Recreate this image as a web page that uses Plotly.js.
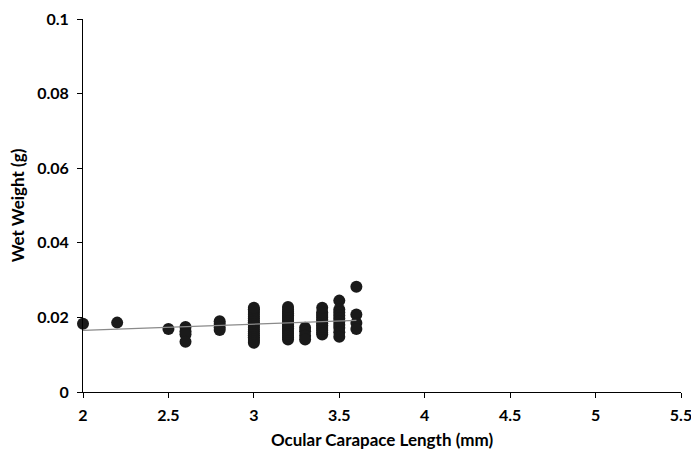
<!DOCTYPE html>
<html><head><meta charset="utf-8">
<script src="https://cdn.plot.ly/plotly-3.0.1.min.js"></script>
<style>html,body{margin:0;padding:0;background:#fff;}#chart{width:691px;height:451px;}</style>
</head><body><div id="chart"></div>
<script>
const lengthMm = [
  2.0, 2.2, 2.5,
  2.6, 2.6, 2.6, 2.6,
  2.8, 2.8, 2.8, 2.8,
  3.0, 3.0, 3.0, 3.0, 3.0, 3.0, 3.0, 3.0, 3.0, 3.0, 3.0, 3.0, 3.0, 3.0, 3.0, 3.0, 3.0, 3.0, 3.0, 3.0,
  3.2, 3.2, 3.2, 3.2, 3.2, 3.2, 3.2, 3.2, 3.2, 3.2, 3.2, 3.2, 3.2, 3.2, 3.2, 3.2, 3.2, 3.2,
  3.3, 3.3, 3.3, 3.3,
  3.4, 3.4, 3.4, 3.4, 3.4, 3.4, 3.4, 3.4, 3.4, 3.4, 3.4, 3.4, 3.4, 3.4,
  3.5, 3.5, 3.5, 3.5, 3.5, 3.5, 3.5, 3.5, 3.5, 3.5,
  3.6, 3.6, 3.6, 3.6
];
const wetWeight = [
  0.0183, 0.0186, 0.0169,
  0.0174, 0.0163, 0.0155, 0.0135,
  0.0190, 0.0182, 0.0173, 0.0166,
  0.0132, 0.0137, 0.0142, 0.0147, 0.0152, 0.0157, 0.0162, 0.0167, 0.0172, 0.0177, 0.0182, 0.0187, 0.0192, 0.0197, 0.0202, 0.0207, 0.0212, 0.0217, 0.0222, 0.0226,
  0.0141, 0.0146, 0.0151, 0.0156, 0.0161, 0.0166, 0.0171, 0.0176, 0.0181, 0.0186, 0.0191, 0.0196, 0.0201, 0.0206, 0.0211, 0.0216, 0.0221, 0.0228,
  0.0172, 0.0163, 0.0151, 0.0141,
  0.0154, 0.0159, 0.0164, 0.0169, 0.0174, 0.0179, 0.0184, 0.0189, 0.0194, 0.0199, 0.0204, 0.0209, 0.0214, 0.0226,
  0.0245, 0.0221, 0.0213, 0.0205, 0.0197, 0.0189, 0.0180, 0.0172, 0.0160, 0.0148,
  0.0282, 0.0208, 0.0185, 0.0169
];
const trendX = [2.0, 3.6];
const trendY = [0.0165, 0.0192];
const xTicks = [2, 2.5, 3, 3.5, 4, 4.5, 5, 5.5];
const yTicks = [0, 0.02, 0.04, 0.06, 0.08, 0.1];

const font = 'Lato, "Open Sans", sans-serif';
const data = [
  {x: lengthMm, y: wetWeight, type: 'scatter', mode: 'markers',
   marker: {color: '#1a1a1a', size: 12}, hoverinfo: 'skip', cliponaxis: false},
  {x: trendX, y: trendY, type: 'scatter', mode: 'lines',
   line: {color: '#8a8a8a', width: 1.3}, hoverinfo: 'skip'}
];
const layout = {
  width: 691, height: 451,
  margin: {l: 83, r: 10, t: 19, b: 59},
  paper_bgcolor: '#fff', plot_bgcolor: '#fff',
  showlegend: false,
  font: {family: font, color: '#000'},
  xaxis: {
    range: [2, 5.5], tickvals: xTicks, ticktext: xTicks.map(String),
    showgrid: false, zeroline: false, showline: true, linecolor: '#000', linewidth: 1,
    ticks: 'outside', ticklen: 5, tickcolor: '#000', ticklabelstandoff: 4,
    ticklabeloverflow: 'allow',
    tickfont: {family: font, size: 16, color: '#000', weight: 'bold'},
    title: {text: '<b>Ocular Carapace Length (mm)</b>', font: {family: font, size: 17, color: '#000'}, standoff: 10}
  },
  yaxis: {
    range: [0, 0.1], tickvals: yTicks, ticktext: yTicks.map(String),
    showgrid: false, zeroline: false, showline: true, linecolor: '#000', linewidth: 1,
    ticks: 'outside', ticklen: 5, tickcolor: '#000', ticklabelstandoff: 5,
    ticklabeloverflow: 'allow',
    tickfont: {family: font, size: 16, color: '#000', weight: 'bold'},
    title: {text: '<b>Wet Weight (g)</b>', font: {family: font, size: 17, color: '#000'}, standoff: 8}
  }
};
Plotly.newPlot('chart', data, layout, {staticPlot: true, displayModeBar: false});
</script></body></html>
